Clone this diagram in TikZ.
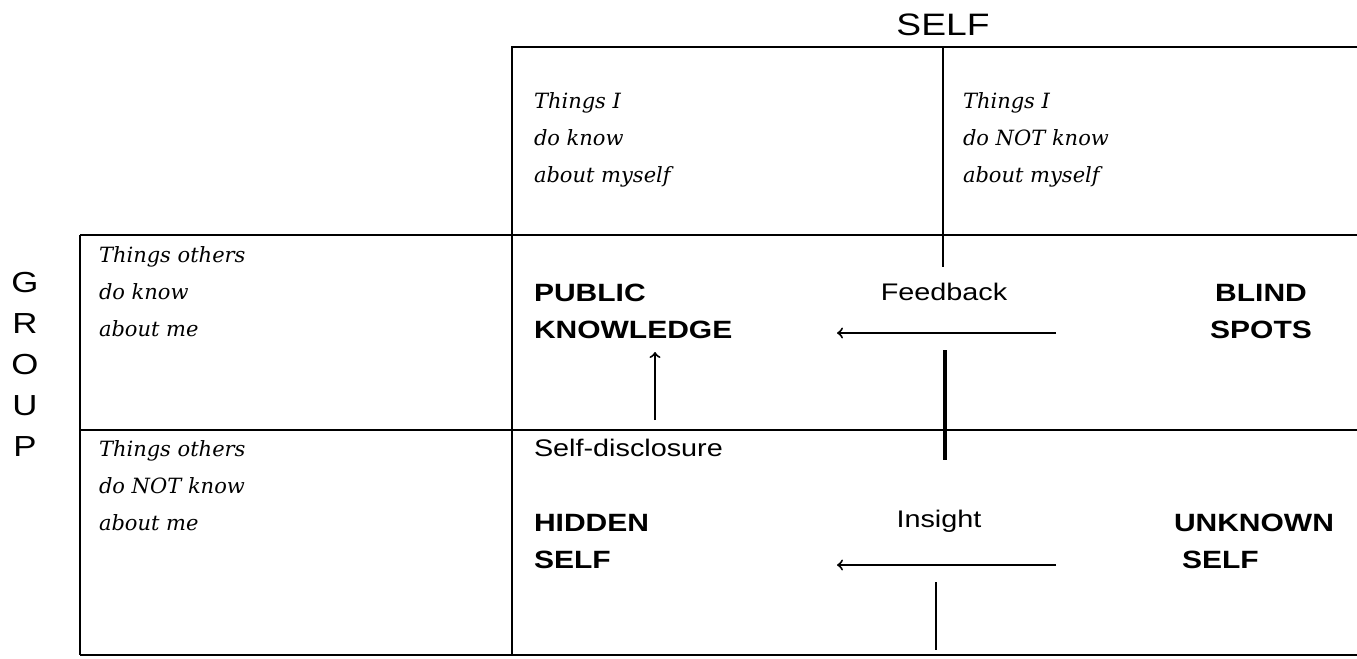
\documentclass[tikz,border=0pt]{standalone}
\usepackage{fontspec}
\setmainfont{DejaVu Serif}
\setsansfont[FakeStretch=1.2]{Liberation Sans}
\usetikzlibrary{positioning,arrows}

\begin{document}
\begin{tikzpicture}[x=0.5pt,y=-0.5pt,line width=1pt,
  things/.style={font=\itshape\fontsize{10.5}{18.5}\selectfont,align=left,anchor=north west,inner sep=0pt},
  area/.style={font=\sffamily\bfseries\fontsize{12.5}{18.5}\selectfont,align=left,anchor=north west,inner sep=0pt},
  flow/.style={font=\sffamily\fontsize{12}{14}\selectfont,inner sep=0pt}]
\useasboundingbox (0,0) rectangle (1357,659);
\node (self) [font=\sffamily\fontsize{15.5}{18}\selectfont] at (943,25) {SELF};
\node (group) [font=\sffamily\fontsize{14.5}{20.5}\selectfont,align=center,anchor=north,inner sep=0pt] at (25,271) {G\\R\\O\\U\\P};
\draw (512,235) -- (512,47) -- (1360,47);
\draw (80,235) -- (1360,235);
\draw (80,430) -- (1360,430);
\draw (80,655) -- (1360,655);
\draw (80,235) -- (80,655);
\draw (512,235) -- (512,655);
\node (iknow) [things] at (533,92) {Things I\\do know\\about myself};
\node (inot) [things] at (962,92) {Things I\\do NOT know\\about myself};
\node (oknow) [things] at (98,246) {Things others\\do know\\about me};
\node (onot) [things] at (98,440) {Things others\\do NOT know\\about me};
\node (pub) [area] at (533,283) {PUBLIC\\KNOWLEDGE};
\node (blind) [area,align=center,anchor=north] at (1261,283) {BLIND\\SPOTS};
\node (hid) [area] at (533,513) {HIDDEN\\SELF};
\node (unk) [area] at (1173,513) {UNKNOWN\\\hspace*{4pt}SELF};
\node (fb) [flow] at (944,292) {Feedback};
\node (ins) [flow] at (939,521) {Insight};
\node (disc) [flow,anchor=west] at (533,448) {Self-disclosure};
\coordinate (fb-a) at (1056,333); \coordinate (fb-b) at (837,333);
\coordinate (ins-a) at (1056,565); \coordinate (ins-b) at (837,565);
\coordinate (disc-a) at (655,420); \coordinate (disc-b) at (655,352);
\coordinate (cut-a) at (943,47); \coordinate (cut-b) at (943,267);
\coordinate (cut-c) at (945,350); \coordinate (cut-d) at (945,460);
\coordinate (cut-e) at (936,582); \coordinate (cut-f) at (936,650);
\draw [->] (fb-a) -- (fb-b);
\draw [->] (ins-a) -- (ins-b);
\draw [->] (disc-a) -- (disc-b);
\draw (cut-a) -- (cut-b);
\draw [line width=1.6pt] (cut-c) -- (cut-d);
\draw [line width=0.6pt] (cut-e) -- (cut-f);
\end{tikzpicture}
\end{document}
